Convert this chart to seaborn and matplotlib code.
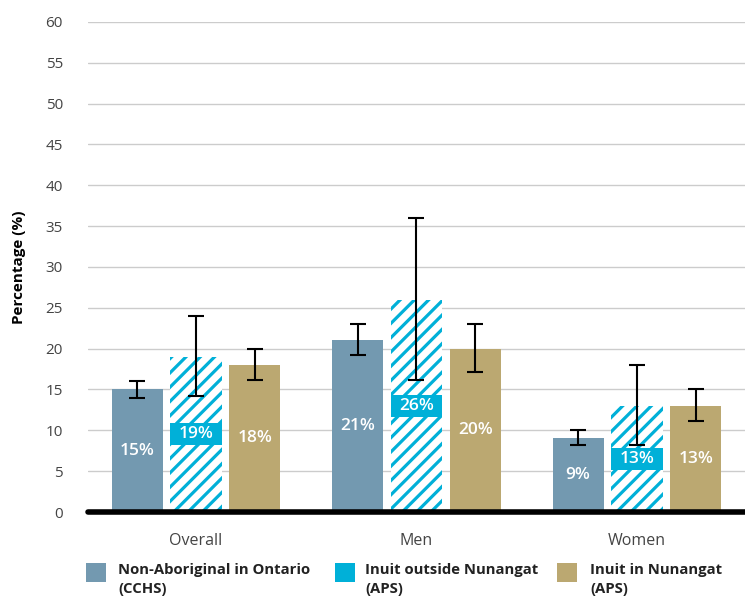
import pandas as pd
import matplotlib.pyplot as plt
import matplotlib.backend_bases as bb
import numpy as np
import seaborn as sns
from matplotlib.patches import Rectangle

groups = ['Overall', 'Men', 'Women']
series = ['Non-Aboriginal in Ontario\n(CCHS)', 'Inuit outside Nunangat\n(APS)', 'Inuit in Nunangat\n(APS)']
values = {
    series[0]: [15, 21, 9],
    series[1]: [19, 26, 13],
    series[2]: [18, 20, 13],
}
err_low = {
    series[0]: [14, 19.2, 8.2],
    series[1]: [14.2, 16.2, 8.2],
    series[2]: [16.2, 17.2, 11.2],
}
err_high = {
    series[0]: [16, 23, 10],
    series[1]: [24, 36, 18],
    series[2]: [20, 23, 15],
}
colors = ['#7399b0', '#00b0d8', '#bba871']
yticks = list(range(0, 65, 5))

sns.set_style('white')
plt.rcParams['font.family'] = ['Open Sans', 'DejaVu Sans']
plt.rcParams['hatch.linewidth'] = 2.3

# stripes a bit closer than the default '//' hatch (needs an even line count to tile)
_orig_hatch = bb.GraphicsContextBase.get_hatch_path
def _hatch_path(self, density=6.0):
    return _orig_hatch(self, density=7.0)
bb.GraphicsContextBase.get_hatch_path = _hatch_path

rows = []
for s in series:
    for g, v in zip(groups, values[s]):
        rows.append({'group': g, 'series': s, 'value': v})
df = pd.DataFrame(rows)

fig = plt.figure(figsize=(7.45, 6.02), dpi=100)
ax = fig.add_axes([0.118, 0.1495, 0.882, 0.814])

sns.barplot(data=df, x='group', y='value', hue='series', palette=colors,
            width=0.8, gap=0.13, legend=False, ax=ax, saturation=1)

# collect bar patches by series
bars = sorted([p for p in ax.patches], key=lambda p: p.get_x())
centers = {s: [] for s in series}
for gi in range(len(groups)):
    for si, s in enumerate(series):
        p = bars[gi * 3 + si]
        centers[s].append(p.get_x() + p.get_width() / 2)
        p.set_linewidth(0)
        if si == 1:
            p.set_facecolor('white')
            p.set_edgecolor(colors[1])
            p.set_hatch('//')
bw = bars[0].get_width()

# label box behind the hatched bar labels
hv = np.array(values[series[1]], dtype=float)
ax.bar(centers[series[1]], 2.7, bottom=hv / 2 - 1.35, width=bw, color=colors[1], linewidth=0, zorder=3)

for s in series:
    v = np.array(values[s], dtype=float)
    lo = v - np.array(err_low[s])
    hi = np.array(err_high[s]) - v
    ax.errorbar(centers[s], v, yerr=[lo, hi], fmt='none', ecolor='black',
                elinewidth=1.5, capsize=6, capthick=1.5, zorder=4)
    for x, val in zip(centers[s], values[s]):
        ax.text(x, val / 2, f'{val}%', color='white', ha='center', va='center',
                fontsize=12.5, fontweight='semibold', zorder=5)

ax.set_ylim(0, 60)
ax.set_xlim(-0.49, 2.49)
ax.set_yticks(yticks)
ax.yaxis.grid(True, color='#cccccc', linewidth=1)
ax.set_axisbelow(True)
for sp in ax.spines.values():
    sp.set_visible(False)
ax.axhline(0, color='black', linewidth=4, zorder=6, clip_on=False)
ax.tick_params(axis='both', length=0, labelsize=11, colors='#444444')
ax.tick_params(axis='x', pad=15, labelsize=11.5)
ax.tick_params(axis='y', pad=18)
ax.set_xlabel('')
ax.set_ylabel('Percentage (%)', fontsize=11, fontweight='bold', color='black', labelpad=14)

# legend
W, H = 745, 602
sq_x = [86, 335, 557]
tx_x = [118, 365, 590]
for i, s in enumerate(series):
    fig.add_artist(Rectangle((sq_x[i] / W, 1 - 582 / H), 20 / W, 19 / H,
                             transform=fig.transFigure, color=colors[i], linewidth=0))
    fig.text(tx_x[i] / W, 1 - 563 / H, s, ha='left', va='top', fontsize=10.7,
             fontweight='bold', color='#222222', linespacing=1.45)

fig.savefig('out.png', dpi=100)
